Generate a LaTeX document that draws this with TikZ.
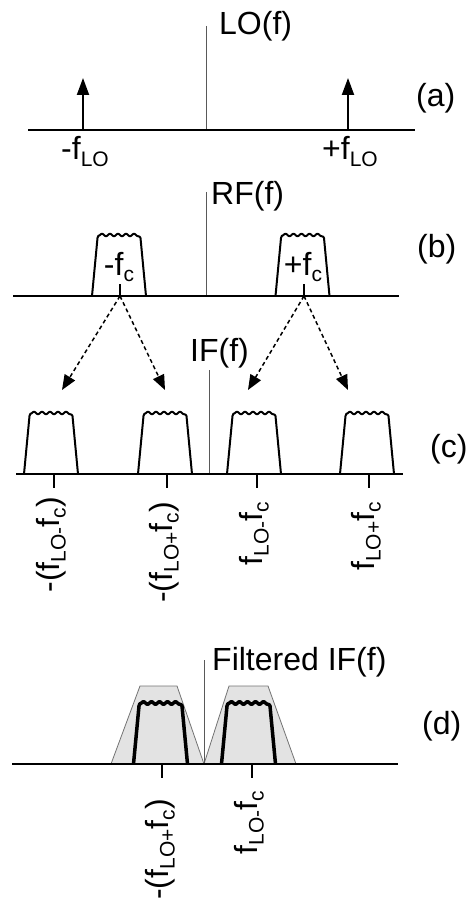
\documentclass[tikz,border=0pt]{standalone}
\usepackage{fontspec}
\setmainfont{Liberation Sans}
\usetikzlibrary{arrows.meta}
% lowered, smaller text for subscripts
\newcommand{\lowtxt}[1]{\raisebox{-6.5pt}{\fontsize{21}{21}\selectfont #1}}
\begin{document}
\begin{tikzpicture}[x=1pt,y=-1pt,
  font=\fontsize{32}{38}\selectfont,
  axis/.style={line width=2pt},
  zeroline/.style={line width=1pt, black!65},
  bumpline/.style={line width=2pt, line join=round},
  boldbump/.style={line width=3.5pt, line join=round},
  filterbox/.style={fill=black!11, draw=black!55, line width=0.8pt},
  tick/.style={line width=2pt},
  impulse/.style={line width=2pt, -{Triangle[length=17pt,width=12pt]}},
  maparrow/.style={line width=1.5pt, dash pattern=on 4pt off 3pt, -{Triangle[length=15pt,width=12pt]}},
  lbl/.style={anchor=base west, inner sep=0},
  flbl/.style={anchor=base, inner sep=0},
  rot/.style={rotate=90, anchor=base east, inner sep=0},
  pics/bump/.style={code={
    \draw[#1] (-27,0) -- (-21.5,-58) to[out=80,in=180] (-19,-61)
      -- plot[domain=-19:19, samples=77] (\x, {-61 - 1.2*sin((\x+19)*45)})
      to[out=0,in=100] (21.5,-58) -- (27,0);
  }}
]
\useasboundingbox (0,0) rectangle (468,901);

% ---------- (a) local oscillator ----------
\coordinate (a0) at (206,26);
\coordinate (a0b) at (206,130);
\draw[zeroline] (a0) -- (a0b);
\draw[axis] (28,130) -- (415,130);
\coordinate (l1) at (83,130);  \coordinate (l1t) at (83,78);
\coordinate (l2) at (348,130); \coordinate (l2t) at (348,78);
\draw[impulse] (l1) -- (l1t);
\draw[impulse] (l2) -- (l2t);
\node[lbl] (tlo) at (219,35) {LO(f)};
\node[lbl] (ta) at (416,107) {(a)};
\node[flbl] (tmlo) at (85,160) {-f\lowtxt{LO}};
\node[flbl] (tplo) at (350,160) {+f\lowtxt{LO}};

% ---------- (b) RF spectrum ----------
\draw[zeroline] (206,192) -- (206,296);
\draw[axis] (13,296) -- (399,296);
\pic at (119,296) {bump=bumpline};
\pic at (302.5,296) {bump=bumpline};
\coordinate (b1) at (120,296); \coordinate (b2) at (304,296);
\draw[tick] (120,284) -- (b1);
\draw[tick] (304,284) -- (b2);
\node[lbl] (trf) at (211,205) {RF(f)};
\node[lbl] (tb) at (417,257) {(b)};
\node[flbl] (tmfc) at (119,275) {-f\lowtxt{c}};
\node[flbl] (tpfc) at (303,275) {+f\lowtxt{c}};

% ---------- mixing arrows ----------
\coordinate (c1t) at (62,390);
\coordinate (c2t) at (165,390);
\coordinate (c3t) at (248,390);
\coordinate (c4t) at (348,390);
\draw[maparrow] (b1) -- (c1t);
\draw[maparrow] (b1) -- (c2t);
\draw[maparrow] (b2) -- (c3t);
\draw[maparrow] (b2) -- (c4t);

% ---------- (c) IF spectrum ----------
\draw[zeroline] (209,370) -- (209,474);
\draw[axis] (16,474) -- (403,474);
\pic at (51,474) {bump=bumpline};
\pic at (165,474) {bump=bumpline};
\pic at (254,474) {bump=bumpline};
\pic at (367,474) {bump=bumpline};
\foreach \t in {54,167,257,369} \draw[tick] (\t,474) -- (\t,488);
\node[lbl] (tif) at (190,361) {IF(f)};
\node[lbl] (tc) at (430,457) {(c)};
\node[rot] (r1) at (59,497) {-(f\lowtxt{LO-}f\lowtxt{c})};
\node[rot] (r2) at (172,502) {-(f\lowtxt{LO+}f\lowtxt{c})};
\node[rot] (r3) at (262,502) {f\lowtxt{LO-}f\lowtxt{c}};
\node[rot] (r4) at (374,502) {f\lowtxt{LO+}f\lowtxt{c}};

% ---------- (d) filtered IF ----------
\draw[filterbox] (111,764) -- (140,686) -- (177,686) -- (204,764) -- cycle;
\draw[filterbox] (204,764) -- (229,686) -- (268,686) -- (296,764) -- cycle;
\draw[zeroline] (204,660) -- (204,764);
\draw[axis] (12,764) -- (398,764);
\pic at (160.5,764) {bump=boldbump};
\pic at (248.5,764) {bump=boldbump};
\draw[tick] (162,764) -- (162,778);
\draw[tick] (252,764) -- (252,778);
\node[lbl] (tfif) at (212,670) {Filtered IF(f)};
\node[lbl] (td) at (422,734) {(d)};
\node[rot] (r5) at (168,799) {-(f\lowtxt{LO+}f\lowtxt{c})};
\node[rot] (r6) at (257,791) {f\lowtxt{LO-}f\lowtxt{c}};
\end{tikzpicture}
\end{document}
